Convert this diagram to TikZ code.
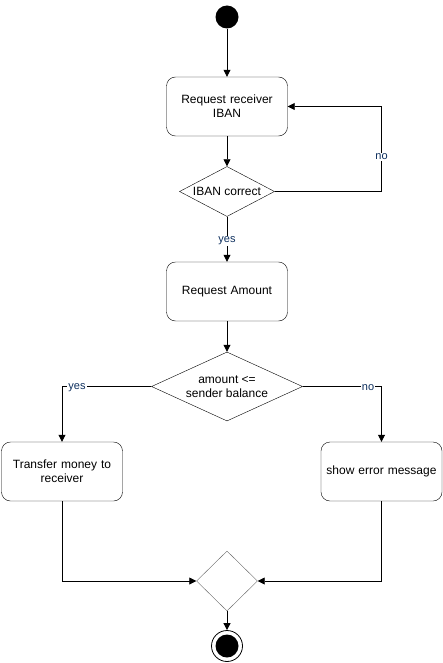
\documentclass[tikz,border=0pt]{standalone}
\usepackage{fontspec}
\setmainfont{Liberation Sans}
\usetikzlibrary{shapes.geometric,arrows.meta}
\definecolor{lbl}{HTML}{0D2F5E}
\tikzset{
  x=1pt,y=-1pt,
  every node/.style={font=\fontsize{12}{14}\selectfont},
  actbox/.style={draw,rounded corners=9pt,minimum width=121pt,minimum height=59pt,align=center,inner sep=2pt,text width=116pt},
  decision/.style={draw,diamond,aspect=1.9,inner sep=0pt,align=center},
  conn/.style={line width=0.8pt,-{Triangle[length=7pt,width=7pt]}},
  lbl/.style={fill=white,text=lbl,font=\fontsize{11}{13}\selectfont,inner sep=1pt}
}
\begin{document}
\begin{tikzpicture}
\useasboundingbox (0,0) rectangle (443,663);
\node[circle,fill=black,minimum size=23pt,inner sep=0pt] (start) at (227,17) {};
\node[actbox] (req) at (227,106.5) {Request receiver\\IBAN};
\node[decision,minimum width=95pt,minimum height=50pt] (d1) at (227,191.5) {IBAN correct};
\node[actbox] (amt) at (227,291.5) {Request Amount};
\node[decision,minimum width=151pt,minimum height=69pt] (d2) at (227,386.5) {amount <=\\sender balance};
\node[actbox] (tr) at (62,471.5) {Transfer money to\\receiver};
\node[actbox] (err) at (381.5,471.5) {show error message};
\node[draw=black!60,diamond,minimum width=61pt,minimum height=60pt,inner sep=0pt] (m) at (227,581) {};
\node[circle,draw,line width=0.8pt,minimum size=31pt,inner sep=0pt] (end) at (227,646) {};
\node[circle,fill=black,minimum size=23pt,inner sep=0pt] (endin) at (end) {};
\coordinate (c1) at (381.5,191.5);
\coordinate (c2) at (381.5,106.5);
\coordinate (c3) at (62,386.5);
\coordinate (c4) at (381.5,386.5);
\coordinate (c5) at (62,581);
\coordinate (c6) at (381.5,581);
\draw[conn] (start) -- (req);
\draw[conn] (req) -- (d1);
\draw[conn] (d1.east) -- (c1) -- (c2) -- (req.east);
\node[lbl] at (381.5,157) {no};
\draw[conn] (d1) -- (amt);
\node[lbl] at (227,241) {yes};
\draw[conn] (amt) -- (d2);
\draw[conn] (d2.west) -- (c3) -- (tr.north);
\node[lbl] at (77,388) {yes};
\draw[conn] (d2.east) -- (c4) -- (err.north);
\node[lbl] at (368,388) {no};
\draw[conn] (tr.south) -- (c5) -- (m.west);
\draw[conn] (err.south) -- (c6) -- (m.east);
\draw[conn] (m) -- (end);
\end{tikzpicture}
\end{document}
